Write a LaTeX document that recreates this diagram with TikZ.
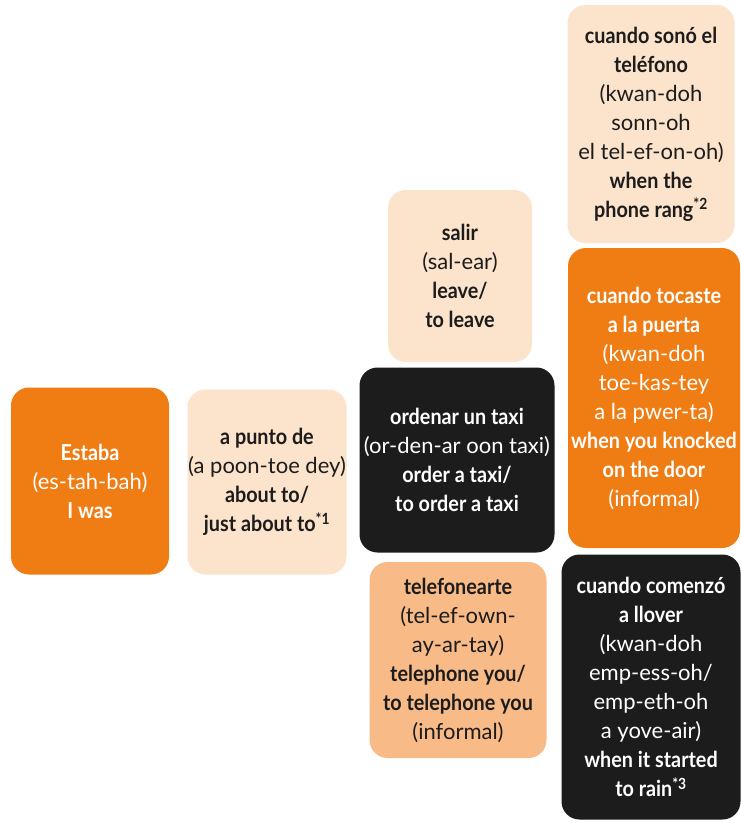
\documentclass[tikz,border=0pt]{standalone}
\usepackage{fontspec}
\setmainfont{Lato}[BoldFeatures={FakeStretch=0.9}]
\definecolor{orng}{HTML}{EF7D14}
\definecolor{lpeach}{HTML}{FCE3CB}
\definecolor{dpeach}{HTML}{F8BB88}
\definecolor{blk}{HTML}{1C1C1C}
\tikzset{
  box/.style={rounded corners=18pt, inner sep=0pt, align=center,
    font=\fontsize{22}{29}\selectfont},
  orangebox/.style={box, fill=orng, text=white},
  lightbox/.style={box, fill=lpeach, text=blk},
  peachbox/.style={box, fill=dpeach, text=blk},
  darkbox/.style={box, fill=blk, text=white},
}
\begin{document}
\begin{tikzpicture}[x=1pt,y=-1pt]
\useasboundingbox[fill=white] (0,0) rectangle (741,823);
\node[orangebox, minimum width=158pt, minimum height=187pt] (estaba) at (90,481)
  {\textbf{Estaba}\\(es-tah-bah)\\\textbf{I was}};
\node[lightbox, minimum width=159pt, minimum height=185pt] (apunto) at (267,482)
  {\textbf{a punto de}\\(a poon-toe dey)\\\textbf{about to/}\\\textbf{just about to\textsuperscript{*1}}};
\node[lightbox, minimum width=144pt, minimum height=172pt] (salir) at (460,276)
  {\textbf{salir}\\(sal-ear)\\\textbf{leave/}\\\textbf{to leave}};
\node[darkbox, minimum width=195pt, minimum height=185pt] (ordenar) at (457,460)
  {\textbf{ordenar un taxi}\\(or-den-ar oon taxi)\\\textbf{order a taxi/}\\\textbf{to order a taxi}};
\node[peachbox, minimum width=177pt, minimum height=196pt] (telefonearte) at (458,660)
  {\textbf{telefonearte}\\(tel-ef-own-\\ay-ar-tay)\\\textbf{telephone you/}\\\textbf{to telephone you}\\(informal)};
\node[lightbox, minimum width=167pt, minimum height=238pt] (sono) at (651,124)
  {\textbf{cuando sonó el}\\\textbf{teléfono}\\(kwan-doh\\sonn-oh\\el tel-ef-on-oh)\\\textbf{when the}\\\textbf{phone rang\textsuperscript{*2}}};
\node[orangebox, minimum width=172pt, minimum height=300pt] (tocaste) at (654,398)
  {\textbf{cuando tocaste}\\\textbf{a la puerta}\\(kwan-doh\\toe-kas-tey\\a la pwer-ta)\\\textbf{when you knocked}\\\textbf{on the door}\\(informal)};
\node[darkbox, minimum width=179pt, minimum height=265pt] (comenzo) at (651,687)
  {\textbf{cuando comenzó}\\\textbf{a llover}\\(kwan-doh\\emp-ess-oh/\\emp-eth-oh\\a yove-air)\\\textbf{when it started}\\\textbf{to rain\textsuperscript{*3}}};
\end{tikzpicture}
\end{document}
